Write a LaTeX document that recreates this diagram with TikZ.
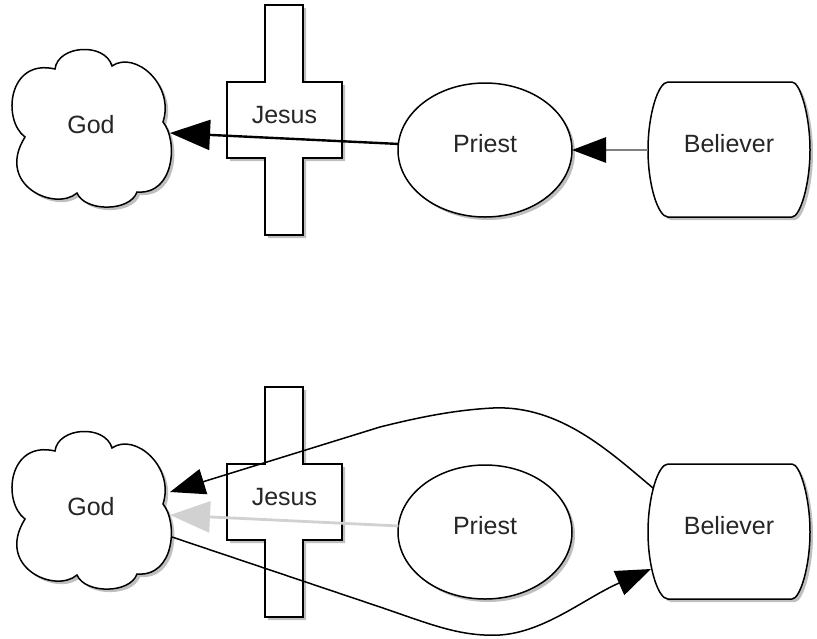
\documentclass[tikz,border=0pt]{standalone}
\usepackage{fontspec}
\setmainfont{Liberation Sans}
\usetikzlibrary{arrows.meta,shapes.geometric,shadows,calc}
\begin{document}
\begin{tikzpicture}[x=1pt,y=-1pt,
  shp/.style={draw=black,line width=1.5pt,fill=white,
    drop shadow={shadow xshift=3pt,shadow yshift=-3pt,opacity=0.25,fill=black}},
  lbl/.style={inner sep=0pt,outer sep=0pt,text height=18pt,text depth=14pt,
    font=\fontsize{25}{30}\selectfont,text=black!85},
  strong/.style={draw=black,line width=2.4pt,-{Triangle[length=40pt,width=30pt]}},
  midgray/.style={draw=black!50,line width=2.8pt,-{Triangle[length=34pt,width=25pt,color=black]}},
  faint/.style={draw=black!18,line width=2.8pt,-{Triangle[length=40pt,width=31pt]}},
  curv/.style={draw=black,line width=1.5pt,-{Triangle[length=35pt,width=26pt]}}]
\useasboundingbox (0,0) rectangle (817,638);
\foreach \i/\dy in {1/0,2/382}{
\begin{scope}[shift={(0,\dy)}]
  % God cloud
  \draw[shp] (25,137) .. controls (2,120) and (8,58) .. (55,69)
    .. controls (58,45) and (105,42) .. (112,66)
    .. controls (135,50) and (175,85) .. (163,122)
    .. controls (178,140) and (175,195) .. (137,192)
    .. controls (130,212) and (85,212) .. (77,193)
    .. controls (55,212) and (-5,185) .. (25,137) -- cycle;
  \node[lbl,minimum width=162pt,minimum height=150pt] (God\i) at (91,131) {God};
  % Jesus cross
  \draw[shp] (265,5) -- (303,5) -- (303,82) -- (342,82) -- (342,158) -- (303,158)
    -- (303,235) -- (265,235) -- (265,158) -- (227,158) -- (227,82) -- (265,82) -- cycle;
  \node[lbl,minimum width=115pt,minimum height=76pt] (Jesus\i) at (284.5,121) {Jesus};
  % Priest ellipse
  \node[shp,lbl,ellipse,minimum width=174pt,minimum height=134pt] (Priest\i) at (485,150) {Priest};
  % Believer
  \draw[shp] (668,82) -- (792,82) .. controls (800,82) and (810,115) .. (810,150)
    .. controls (810,185) and (800,217) .. (792,217) -- (668,217)
    .. controls (658,217) and (648,185) .. (648,150)
    .. controls (648,115) and (658,82) .. (668,82) -- cycle;
  \node[lbl,minimum width=162pt,minimum height=135pt] (Believer\i) at (729,150) {Believer};
\end{scope}
}
% top connectors
\draw[strong] (Priest1.176) -- ($(God1.center)+(79,2)$);
\draw[midgray] (Believer1.west) -- (Priest1.east);
% bottom connectors
\draw[faint] (Priest2.176) -- ($(God2.center)+(79,2)$);
\draw[curv] ($(Believer2.west)+(5,-44)$) .. controls (610,452) and (560,405) .. (493,408)
  .. controls (455,410) and (420,417) .. (380,427) -- ($(God2.center)+(79,-21)$);
\draw[curv] ($(God2.center)+(81,24)$) -- (380,607) .. controls (430,624) and (460,637) .. (500,635)
  .. controls (545,632) and (585,598) .. ($(Believer2.west)+(3,37)$);
\end{tikzpicture}
\end{document}
